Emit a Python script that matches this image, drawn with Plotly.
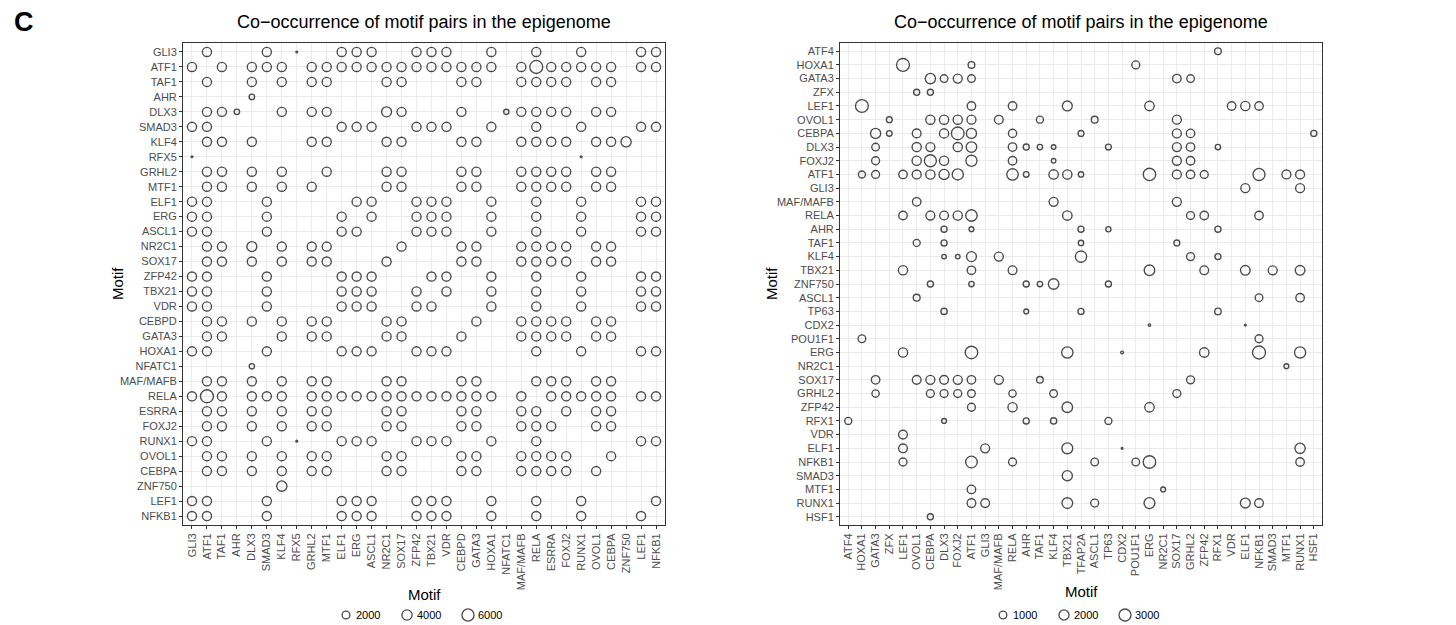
import math
import plotly.graph_objects as go

FONT = "Liberation Sans, Arial, Helvetica, sans-serif"
W, H = 1456, 625

PANEL_LABEL = "C"
TITLE = "Co\u2212occurrence of motif pairs in the epigenome"
AXIS_TITLE = "Motif"

# ---------------- left panel data ----------------
LEFT_MOTIFS = ["GLI3", "ATF1", "TAF1", "AHR", "DLX3", "SMAD3", "KLF4", "RFX5", "GRHL2", "MTF1",
               "ELF1", "ERG", "ASCL1", "NR2C1", "SOX17", "ZFP42", "TBX21", "VDR", "CEBPD", "GATA3",
               "HOXA1", "NFATC1", "MAF/MAFB", "RELA", "ESRRA", "FOXJ2", "RUNX1", "OVOL1", "CEBPA",
               "ZNF750", "LEF1", "NFKB1"]

LEFT_PARTNERS = [
    "ATF1 SMAD3 RFX5 ELF1 ERG ASCL1 ZFP42 TBX21 VDR HOXA1 RELA RUNX1 LEF1 NFKB1",
    "GLI3 TAF1 DLX3 SMAD3 KLF4 GRHL2 MTF1 ELF1 ERG ASCL1 NR2C1 SOX17 ZFP42 TBX21 VDR CEBPD GATA3 HOXA1 MAF/MAFB RELA ESRRA FOXJ2 RUNX1 OVOL1 CEBPA LEF1 NFKB1",
    "ATF1 DLX3 KLF4 GRHL2 MTF1 NR2C1 SOX17 CEBPD GATA3 MAF/MAFB RELA ESRRA FOXJ2 OVOL1 CEBPA",
    "DLX3",
    "ATF1 TAF1 AHR KLF4 GRHL2 MTF1 NR2C1 SOX17 CEBPD NFATC1 MAF/MAFB RELA ESRRA FOXJ2 OVOL1 CEBPA",
    "GLI3 ATF1 ELF1 ERG ASCL1 ZFP42 TBX21 VDR HOXA1 RELA RUNX1 LEF1 NFKB1",
    "ATF1 TAF1 DLX3 GRHL2 MTF1 NR2C1 SOX17 CEBPD GATA3 MAF/MAFB RELA ESRRA FOXJ2 OVOL1 CEBPA ZNF750",
    "GLI3 RUNX1",
    "ATF1 TAF1 DLX3 KLF4 MTF1 NR2C1 SOX17 CEBPD GATA3 MAF/MAFB RELA ESRRA FOXJ2 OVOL1 CEBPA",
    "ATF1 TAF1 DLX3 KLF4 GRHL2 NR2C1 SOX17 CEBPD GATA3 MAF/MAFB RELA ESRRA FOXJ2 OVOL1 CEBPA",
    "GLI3 ATF1 SMAD3 ERG ASCL1 ZFP42 TBX21 VDR HOXA1 RELA RUNX1 LEF1 NFKB1",
    "GLI3 ATF1 SMAD3 ELF1 ASCL1 ZFP42 TBX21 VDR HOXA1 RELA RUNX1 LEF1 NFKB1",
    "GLI3 ATF1 SMAD3 ELF1 ERG ZFP42 TBX21 VDR HOXA1 RELA RUNX1 LEF1 NFKB1",
    "ATF1 TAF1 DLX3 KLF4 GRHL2 MTF1 SOX17 CEBPD GATA3 MAF/MAFB RELA ESRRA FOXJ2 OVOL1 CEBPA",
    "ATF1 TAF1 DLX3 KLF4 GRHL2 MTF1 NR2C1 CEBPD GATA3 MAF/MAFB RELA ESRRA FOXJ2 OVOL1 CEBPA",
    "GLI3 ATF1 SMAD3 ELF1 ERG ASCL1 TBX21 VDR HOXA1 RELA RUNX1 LEF1 NFKB1",
    "GLI3 ATF1 SMAD3 ELF1 ERG ASCL1 ZFP42 VDR HOXA1 RELA RUNX1 LEF1 NFKB1",
    "GLI3 ATF1 SMAD3 ELF1 ERG ASCL1 ZFP42 TBX21 HOXA1 RELA RUNX1 LEF1 NFKB1",
    "ATF1 TAF1 DLX3 KLF4 GRHL2 MTF1 NR2C1 SOX17 GATA3 MAF/MAFB RELA ESRRA FOXJ2 OVOL1 CEBPA",
    "ATF1 TAF1 KLF4 GRHL2 MTF1 NR2C1 SOX17 CEBPD MAF/MAFB RELA ESRRA FOXJ2 OVOL1 CEBPA",
    "GLI3 ATF1 SMAD3 ELF1 ERG ASCL1 ZFP42 TBX21 VDR RELA RUNX1 LEF1 NFKB1",
    "DLX3",
    "ATF1 TAF1 DLX3 KLF4 GRHL2 MTF1 NR2C1 SOX17 CEBPD GATA3 RELA ESRRA FOXJ2 OVOL1 CEBPA",
    "GLI3 ATF1 TAF1 DLX3 SMAD3 KLF4 GRHL2 MTF1 ELF1 ERG ASCL1 NR2C1 SOX17 ZFP42 TBX21 VDR CEBPD GATA3 HOXA1 MAF/MAFB ESRRA FOXJ2 RUNX1 OVOL1 CEBPA LEF1 NFKB1",
    "ATF1 TAF1 DLX3 KLF4 GRHL2 MTF1 NR2C1 SOX17 CEBPD GATA3 MAF/MAFB RELA FOXJ2 OVOL1 CEBPA",
    "ATF1 TAF1 DLX3 KLF4 GRHL2 MTF1 NR2C1 SOX17 CEBPD GATA3 MAF/MAFB RELA ESRRA OVOL1 CEBPA",
    "GLI3 ATF1 SMAD3 RFX5 ELF1 ERG ASCL1 ZFP42 TBX21 VDR HOXA1 RELA LEF1 NFKB1",
    "ATF1 TAF1 DLX3 KLF4 GRHL2 MTF1 NR2C1 SOX17 CEBPD GATA3 MAF/MAFB RELA ESRRA FOXJ2 CEBPA",
    "ATF1 TAF1 DLX3 KLF4 GRHL2 MTF1 NR2C1 SOX17 CEBPD GATA3 MAF/MAFB RELA ESRRA FOXJ2 OVOL1",
    "KLF4",
    "GLI3 ATF1 SMAD3 ELF1 ERG ASCL1 ZFP42 TBX21 VDR HOXA1 RELA RUNX1 NFKB1",
    "GLI3 ATF1 SMAD3 ELF1 ERG ASCL1 ZFP42 TBX21 VDR HOXA1 RELA RUNX1 LEF1",
]

LEFT_COUNTS = [
    [3000, 3000, 20, 3000, 3000, 3000, 3000, 3000, 3000, 3000, 3000, 3000, 3000, 3000],
    [3000, 3000, 3000, 3000, 3000, 3000, 3000, 3000, 3000, 3000, 3000, 3000, 3000, 3000, 3000, 3000, 3000, 3000, 3000,
     7000, 3000, 3000, 3000, 3000, 3000, 3000, 3000],
    [3000, 3000, 3000, 3000, 3000, 3000, 3000, 3000, 3000, 3000, 3000, 3000, 3000, 3000, 3000],
    [770],
    [3000, 3000, 770, 3000, 3000, 3000, 3700, 3000, 3000, 700, 3000, 3000, 3000, 3000, 3000, 3000],
    [3000, 3000, 3000, 3000, 3000, 3000, 3000, 3000, 3000, 3000, 3000, 3000, 3000],
    [3000, 3000, 3000, 3000, 3000, 3000, 3000, 3000, 3000, 3000, 3000, 3000, 3000, 3000, 3000, 4000],
    [20, 20],
    [3000, 3000, 3000, 3000, 3000, 3000, 3000, 3000, 3000, 3000, 3000, 3000, 3000, 3000, 3000],
    [3000, 3000, 3000, 3000, 3000, 3000, 3000, 3000, 3000, 3000, 3000, 3000, 3000, 3000, 3000],
    [3000, 3000, 3000, 3000, 3000, 3000, 3000, 3000, 3000, 3000, 3000, 3000, 3000],
    [3000, 3000, 3000, 3000, 3000, 3000, 3000, 3000, 3000, 3000, 3000, 3000, 3000],
    [3000, 3000, 3000, 3000, 3000, 3000, 3000, 3000, 3000, 3000, 3000, 3000, 3000],
    [3000, 3000, 3700, 3000, 3000, 3000, 3000, 3000, 3000, 3000, 3000, 3000, 3000, 3000, 3000],
    [3000, 3000, 3000, 3000, 3000, 3000, 3000, 3000, 3000, 3000, 3000, 3000, 3000, 3000, 3000],
    [3000, 3000, 3000, 3000, 3000, 3000, 3000, 3000, 3000, 3000, 3000, 3000, 3000],
    [3000, 3000, 3000, 3000, 3000, 3000, 3000, 3000, 3000, 3000, 3000, 3000, 3000],
    [3000, 3000, 3000, 3000, 3000, 3000, 3000, 3000, 3000, 3000, 3000, 3000, 3000],
    [3000, 3000, 3000, 3000, 3000, 3000, 3000, 3000, 3000, 3000, 3000, 3000, 3000, 3000, 3000],
    [3000, 3000, 3000, 3000, 3000, 3000, 3000, 3000, 3000, 3000, 3000, 3000, 3000, 3000],
    [3000, 3000, 3000, 3000, 3000, 3000, 3000, 3000, 3000, 3000, 3000, 3000, 3000],
    [700],
    [3000, 3000, 3000, 3000, 3000, 3000, 3000, 3000, 3000, 3000, 3000, 3000, 3000, 3000, 3000],
    [3000, 7000, 3000, 3000, 3000, 3000, 3000, 3000, 3000, 3000, 3000, 3000, 3000, 3000, 3000, 3000, 3000, 3000, 3000,
     3000, 3000, 3000, 3000, 3000, 3000, 3000, 3000],
    [3000, 3000, 3000, 3000, 3000, 3000, 3000, 3000, 3000, 3000, 3000, 3000, 3000, 3000, 3000],
    [3000, 3000, 3000, 3000, 3000, 3000, 3000, 3000, 3000, 3000, 3000, 3000, 3000, 3000, 3000],
    [3000, 3000, 3000, 20, 3000, 3000, 3000, 3000, 3000, 3000, 3000, 3000, 3000, 3000],
    [3000, 3000, 3000, 3000, 3000, 3000, 3000, 3000, 3000, 3000, 3000, 3000, 3000, 3000, 3000],
    [3000, 3000, 3000, 3000, 3000, 3000, 3000, 3000, 3000, 3000, 3000, 3000, 3000, 3000, 3000],
    [4000],
    [3000, 3000, 3000, 3000, 3000, 3000, 3000, 3000, 3000, 3000, 3000, 3000, 3000],
    [3000, 3000, 3000, 3000, 3000, 3000, 3000, 3000, 3000, 3000, 3000, 3000, 3000],
]
LEFT_LEGEND = [2000, 4000, 6000]

# ---------------- right panel data ----------------
RIGHT_Y_MOTIFS = ["ATF4", "HOXA1", "GATA3", "ZFX", "LEF1", "OVOL1", "CEBPA", "DLX3", "FOXJ2", "ATF1",
                  "GLI3", "MAF/MAFB", "RELA", "AHR", "TAF1", "KLF4", "TBX21", "ZNF750", "ASCL1", "TP63",
                  "CDX2", "POU1F1", "ERG", "NR2C1", "SOX17", "GRHL2", "ZFP42", "RFX1", "VDR", "ELF1",
                  "NFKB1", "SMAD3", "MTF1", "RUNX1", "HSF1"]
RIGHT_X_MOTIFS = ["ATF4", "HOXA1", "GATA3", "ZFX", "LEF1", "OVOL1", "CEBPA", "DLX3", "FOXJ2", "ATF1",
                  "GLI3", "MAF/MAFB", "RELA", "AHR", "TAF1", "KLF4", "TBX21", "TFAP2A", "ASCL1", "TP63",
                  "CDX2", "POU1F1", "ERG", "NR2C1", "SOX17", "GRHL2", "ZFP42", "RFX1", "VDR", "ELF1",
                  "NFKB1", "SMAD3", "MTF1", "RUNX1", "HSF1"]

RIGHT_PARTNERS = [
    "RFX1",
    "LEF1 ATF1 POU1F1",
    "CEBPA DLX3 FOXJ2 ATF1 SOX17 GRHL2",
    "OVOL1 CEBPA",
    "HOXA1 ATF1 RELA TBX21 ERG VDR ELF1 NFKB1",
    "ZFX CEBPA DLX3 FOXJ2 ATF1 MAF/MAFB TAF1 ASCL1 SOX17",
    "GATA3 ZFX OVOL1 DLX3 FOXJ2 ATF1 RELA TFAP2A SOX17 GRHL2 HSF1",
    "GATA3 OVOL1 CEBPA FOXJ2 ATF1 RELA AHR TAF1 KLF4 TP63 SOX17 GRHL2 RFX1",
    "GATA3 OVOL1 CEBPA DLX3 ATF1 RELA KLF4 SOX17 GRHL2",
    "HOXA1 GATA3 LEF1 OVOL1 CEBPA DLX3 FOXJ2 RELA AHR KLF4 TBX21 TFAP2A ERG SOX17 GRHL2 ZFP42 NFKB1 MTF1 RUNX1",
    "ELF1 RUNX1",
    "OVOL1 KLF4 SOX17",
    "LEF1 CEBPA DLX3 FOXJ2 ATF1 TBX21 GRHL2 ZFP42 NFKB1",
    "DLX3 ATF1 TFAP2A TP63 RFX1",
    "OVOL1 DLX3 TFAP2A SOX17",
    "DLX3 FOXJ2 ATF1 MAF/MAFB TFAP2A GRHL2 RFX1",
    "LEF1 ATF1 RELA ERG ZFP42 ELF1 SMAD3 RUNX1",
    "CEBPA ATF1 AHR TAF1 KLF4 TP63",
    "OVOL1 NFKB1 RUNX1",
    "DLX3 AHR TFAP2A RFX1",
    "ERG ELF1",
    "HOXA1 NFKB1",
    "LEF1 ATF1 TBX21 CDX2 ZFP42 NFKB1 RUNX1",
    "MTF1",
    "GATA3 OVOL1 CEBPA DLX3 FOXJ2 ATF1 MAF/MAFB TAF1 GRHL2",
    "GATA3 CEBPA DLX3 FOXJ2 ATF1 RELA KLF4 SOX17",
    "ATF1 RELA TBX21 ERG",
    "ATF4 DLX3 AHR KLF4 TP63",
    "LEF1",
    "LEF1 GLI3 TBX21 CDX2 RUNX1",
    "LEF1 ATF1 RELA ASCL1 POU1F1 ERG RUNX1",
    "TBX21",
    "ATF1 NR2C1",
    "ATF1 GLI3 TBX21 ASCL1 ERG ELF1 NFKB1",
    "CEBPA",
]

RIGHT_COUNTS = [
    [700],
    [3500, 700, 1100],
    [2100, 1000, 1500, 1000, 1300, 1000],
    [550, 550],
    [3500, 1300, 1300, 1900, 1700, 1300, 1600, 1300],
    [500, 1600, 1600, 1600, 1500, 1400, 800, 750, 1500],
    [2000, 450, 1400, 1600, 3400, 2000, 1200, 500, 1500, 1300, 550],
    [1000, 1600, 1500, 1600, 2200, 1300, 550, 400, 250, 500, 1500, 1300, 400],
    [1100, 1600, 3000, 1600, 2500, 1300, 250, 1500, 1300],
    [800, 1100, 1300, 1500, 1600, 2000, 2500, 2700, 450, 1700, 1600, 400, 3200, 1500, 1300, 1100, 3000, 1500, 1500],
    [1500, 1500],
    [1300, 1500, 1500],
    [1300, 1500, 1400, 1600, 2700, 1700, 1100, 1300, 1300],
    [550, 300, 550, 350, 550],
    [800, 550, 400, 500],
    [250, 250, 1900, 1500, 2600, 1100, 550],
    [1600, 1300, 1400, 2200, 1400, 1800, 1500, 1800],
    [550, 400, 550, 400, 2200, 550],
    [750, 1000, 1300],
    [600, 300, 550, 650],
    [40, 30],
    [1000, 1100],
    [1600, 3300, 2600, 60, 1700, 3600, 2500],
    [300],
    [1300, 1400, 1500, 1400, 1500, 1300, 1500, 700, 1100],
    [900, 1100, 1100, 1100, 1000, 900, 1000, 1100],
    [1100, 1600, 2200, 1700],
    [800, 300, 550, 600, 800],
    [1400],
    [1400, 1500, 2400, 30, 2100],
    [1100, 2800, 1100, 1000, 1000, 3300, 1300],
    [2000],
    [1300, 300],
    [1400, 1400, 2300, 1100, 2400, 1900, 1400],
    [550],
]
RIGHT_LEGEND = [1000, 2000, 3000]

# point-size range (px diameter) used for the area scale, like ggplot's scale_size
SIZE_RANGE = (1.8, 13.0)
STROKE = 1.35


def build(rows, partners, counts):
    xs, ys, ns = [], [], []
    for r, p, c in zip(rows, partners, counts):
        names = p.split()
        if len(names) != len(c):
            raise ValueError(f"length mismatch in row {r}: {len(names)} vs {len(c)}")
        for name, n in zip(names, c):
            xs.append(name)
            ys.append(r)
            ns.append(n)
    return xs, ys, ns


def diam(v, lo, hi):
    f = (v - lo) / (hi - lo)
    f = min(max(f, 0.0), 1.0)
    return SIZE_RANGE[0] + (SIZE_RANGE[1] - SIZE_RANGE[0]) * math.sqrt(f)


fig = go.Figure()

# panel geometry in pixels: (left, right, top, bottom)
PANELS = [
    dict(px=(183, 665, 43, 525), xcats=LEFT_MOTIFS, ycats=LEFT_MOTIFS, partners=LEFT_PARTNERS,
         counts=LEFT_COUNTS, legend=LEFT_LEGEND, legx=[346, 407, 468], xt_y=594, yt_x=117),
    dict(px=(840, 1322, 43, 525), xcats=RIGHT_X_MOTIFS, ycats=RIGHT_Y_MOTIFS, partners=RIGHT_PARTNERS,
         counts=RIGHT_COUNTS, legend=RIGHT_LEGEND, legx=[1003, 1064, 1125], xt_y=591, yt_x=771),
]

annotations = []
axis_common = dict(
    type="category", categoryorder="array", showgrid=True, gridcolor="#EBEBEB", gridwidth=1,
    showline=True, mirror=True, linecolor="#333333", linewidth=1, ticks="outside", ticklen=3,
    tickcolor="#333333", tickwidth=1, zeroline=False, fixedrange=True,
    tickfont=dict(family=FONT, size=11, color="#4D4D4D"),
)

for i, p in enumerate(PANELS, start=1):
    sfx = "" if i == 1 else str(i)
    l, r, t, b = p["px"]
    xs, ys, ns = build(p["ycats"], p["partners"], p["counts"])
    lo, hi = min(ns), max(ns)
    fig.add_trace(go.Scatter(
        x=xs, y=ys, mode="markers", xaxis="x" + sfx, yaxis="y" + sfx, showlegend=False,
        marker=dict(symbol="circle-open", color="black", size=[diam(v, lo, hi) for v in ns],
                    sizemode="diameter", line=dict(width=STROKE, color="black")),
        hovertemplate="%{y} – %{x}<extra></extra>",
    ))
    nx, ny = len(p["xcats"]), len(p["ycats"])
    fig.update_layout(**{
        "xaxis" + sfx: dict(axis_common, domain=[l / W, r / W], anchor="y" + sfx,
                            categoryarray=p["xcats"], range=[-0.6, nx - 1 + 0.6], tickangle=-90),
        "yaxis" + sfx: dict(axis_common, domain=[1 - b / H, 1 - t / H], anchor="x" + sfx,
                            categoryarray=p["ycats"], range=[ny - 1 + 0.6, -0.6]),
    })
    cx = (l + r) / 2
    annotations.append(dict(x=cx, y=22, text=TITLE, showarrow=False, xref="x3", yref="y3",
                            font=dict(family=FONT, size=18, color="black")))
    annotations.append(dict(x=cx, y=p["xt_y"], text=AXIS_TITLE, showarrow=False, xref="x3", yref="y3",
                            font=dict(family=FONT, size=15, color="black")))
    annotations.append(dict(x=p["yt_x"], y=(t + b) / 2, text=AXIS_TITLE, showarrow=False, xref="x3",
                            yref="y3", textangle=-90, font=dict(family=FONT, size=15, color="black")))
    # size legend
    fig.add_trace(go.Scatter(
        x=p["legx"], y=[615] * 3, mode="markers", xaxis="x3", yaxis="y3", showlegend=False,
        hoverinfo="skip",
        marker=dict(symbol="circle-open", color="black", size=[diam(v, lo, hi) for v in p["legend"]],
                    sizemode="diameter", line=dict(width=STROKE, color="black")),
    ))
    for lx, lv in zip(p["legx"], p["legend"]):
        annotations.append(dict(x=lx + 8, y=615, text=str(lv), showarrow=False, xref="x3", yref="y3",
                                xanchor="left", font=dict(family=FONT, size=11, color="black")))

annotations.append(dict(x=12, y=22, text=f"<b>{PANEL_LABEL}</b>", showarrow=False, xref="x3", yref="y3",
                        xanchor="left", font=dict(family=FONT, size=27, color="black")))

fig.update_layout(
    width=W, height=H, margin=dict(l=0, r=0, t=0, b=0),
    paper_bgcolor="white", plot_bgcolor="rgba(0,0,0,0)", showlegend=False,
    xaxis3=dict(domain=[0, 1], range=[0, W], visible=False, anchor="y3", fixedrange=True),
    yaxis3=dict(domain=[0, 1], range=[H, 0], visible=False, anchor="x3", fixedrange=True),
    annotations=annotations,
    font=dict(family=FONT),
)

fig.write_html("out.html")
